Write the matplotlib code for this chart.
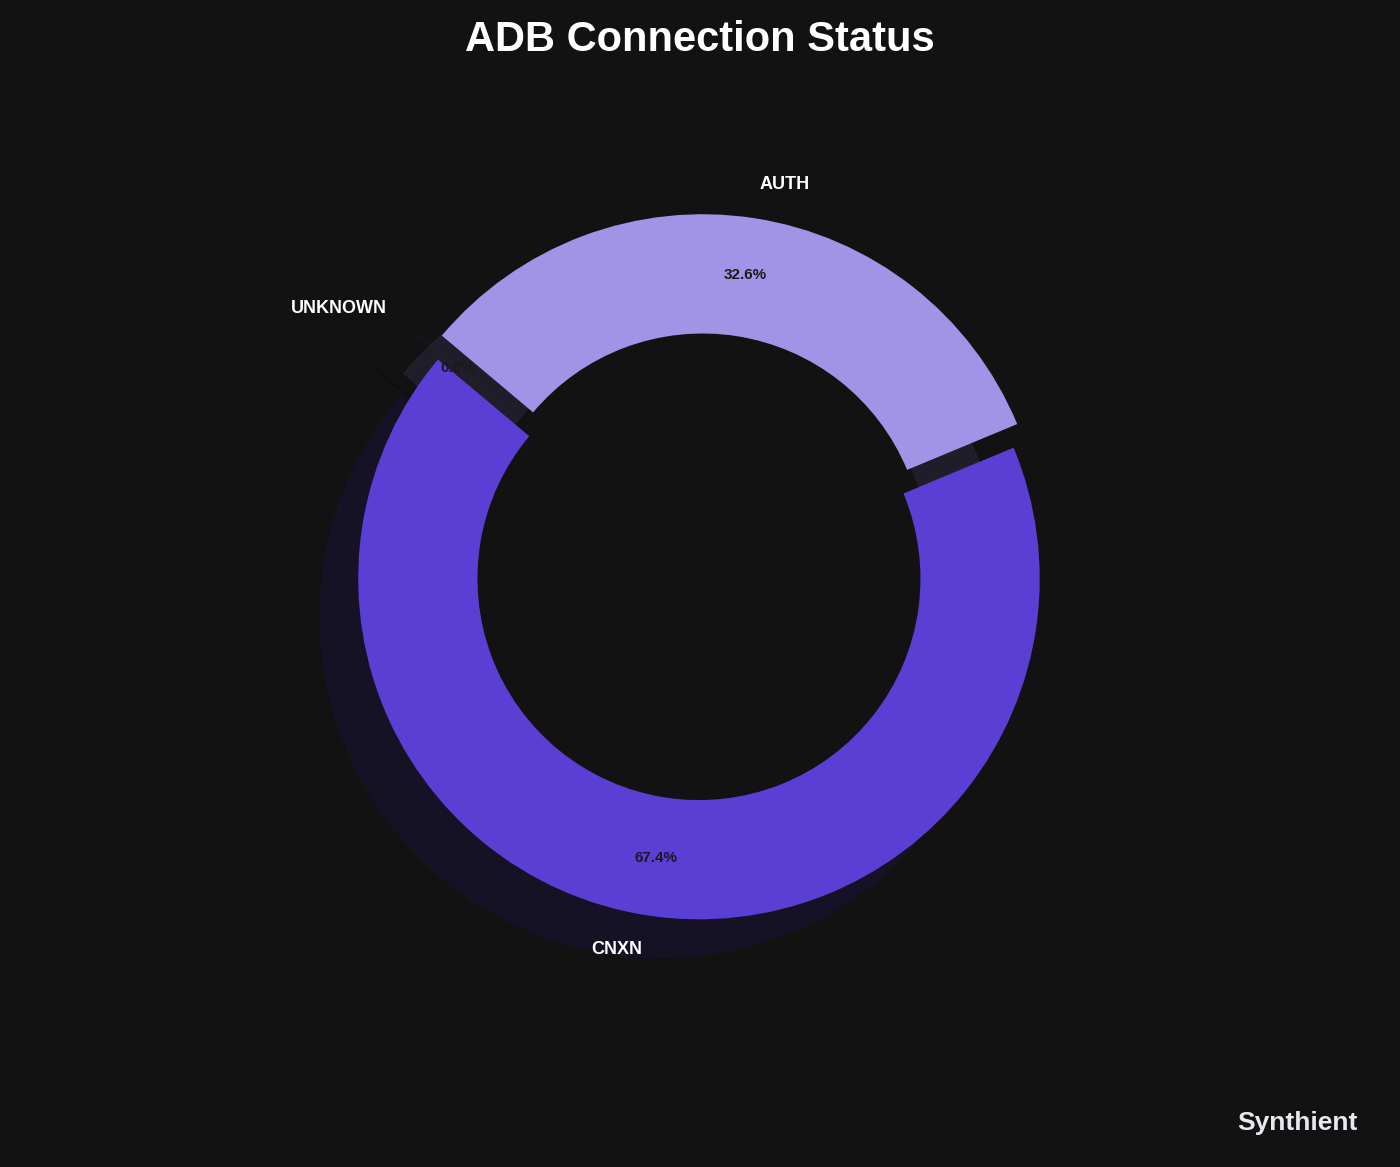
import matplotlib.pyplot as plt
from matplotlib.patches import Circle

plt.rcParams["font.family"] = ["Liberation Sans", "DejaVu Sans"]

labels = ["CNXN", "AUTH", "UNKNOWN"]
values = [67.4, 32.6, 0.02]
colors = ["#5B3FD4", "#A193E6", "#2A2438"]
explode = [0.02, 0.05, 0.1]

bg = "#121212"
fig = plt.figure(figsize=(14, 11.67), dpi=100, facecolor=bg)
ax = fig.add_axes([0.195, 0.145, 0.61, 0.73])
ax.set_facecolor(bg)

wedges, texts, autotexts = ax.pie(
    values, labels=labels, colors=colors, explode=explode,
    startangle=140, shadow={"ox": -0.08, "oy": -0.08, "shade": 0.72},
    autopct="%1.1f%%",
    pctdistance=0.83, labeldistance=1.1,
    wedgeprops=dict(width=0.35),
    textprops=dict(color="white", fontsize=13, fontweight="bold"),
)
for t in autotexts:
    t.set_color("#1a1a1a")
    t.set_fontsize(11)
    t.set_zorder(3)
# push shadows to the back and keep the hole clean
for p in ax.patches:
    if p not in wedges:
        p.set_zorder(0.5)
for w in wedges:
    w.set_zorder(2)
ax.add_patch(Circle((0.0, 0.02), 0.68, facecolor=bg, edgecolor="none", zorder=1))
ax.set_aspect("equal")

fig.text(0.5, 0.966, "ADB Connection Status", ha="center", va="center",
         color="white", fontsize=30, fontweight="bold")
fig.text(0.97, 0.038, "Synthient", ha="right", va="center",
         color="#e8e8f0", fontsize=19, fontweight="bold")

fig.savefig("out.png", facecolor=bg)
